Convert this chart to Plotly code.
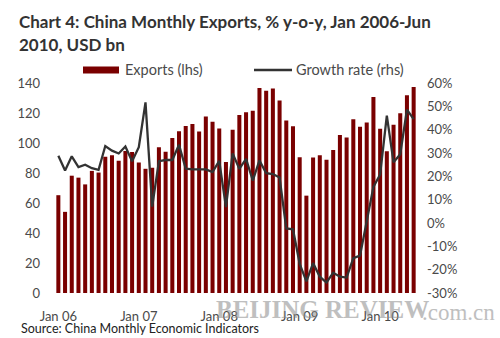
import plotly.graph_objects as go

months = [f"{m} {y:02d}" for y in range(6, 11) for m in
          ["Jan", "Feb", "Mar", "Apr", "May", "Jun", "Jul", "Aug", "Sep", "Oct", "Nov", "Dec"]][:54]

exports = [65.2, 54.1, 78.2, 76.9, 72.4, 81.4, 80.3, 90.8, 91.8, 88.2, 94.6, 94.0,
           87.0, 82.8, 83.5, 97.2, 94.1, 103.3, 107.9, 111.3, 112.6, 107.7, 117.6, 114.2,
           109.6, 87.4, 108.9, 118.7, 120.5, 121.5, 136.7, 134.9, 136.4, 128.3, 115.0, 111.2,
           90.5, 64.9, 90.3, 91.9, 88.8, 95.4, 105.4, 103.7, 115.9, 110.8, 113.6, 130.7,
           109.5, 94.5, 112.1, 119.9, 131.8, 137.4]

growth = [28.8, 22.5, 28.6, 24.0, 25.0, 23.5, 22.8, 33.0, 31.0, 29.8, 32.8, 26.5,
          32.5, 51.7, 7.0, 26.5, 27.0, 27.0, 33.5, 23.3, 23.0, 23.0, 23.0, 21.8,
          26.6, 6.8, 29.8, 23.2, 27.5, 18.2, 26.8, 21.4, 21.0, 19.5, -2.3, -2.7,
          -17.5, -25.0, -17.2, -23.0, -25.5, -21.3, -23.0, -23.4, -15.1, -14.0, 1.0, 15.5,
          20.8, 46.0, 26.0, 29.5, 48.6, 44.5]

tick_vals = ["Jan 06", "Jan 07", "Jan 08", "Jan 09", "Jan 10"]

W, H = 500, 338
L, R, T, B = 55, 417, 83, 293


def px(x):
    return (x - L) / (R - L)


def py(y):
    return (B - y) / (B - T)


FONT = "Lato"
GREY = "#4a4a4a"
RED = "#7a0000"
LINE = "#333333"

fig = go.Figure()
fig.add_trace(go.Bar(x=months, y=exports, marker_color=RED, marker_line_width=0,
                     name="Exports (lhs)", showlegend=False))
fig.add_trace(go.Scatter(x=months, y=growth, yaxis="y2", mode="lines",
                         line=dict(color=LINE, width=2.3), name="Growth rate (rhs)",
                         showlegend=False))

shapes = [
    dict(type="rect", xref="paper", yref="paper", x0=px(83), x1=px(119), y0=py(73.5), y1=py(66.5),
         fillcolor=RED, line_width=0),
    dict(type="line", xref="paper", yref="paper", x0=px(254), x1=px(292), y0=py(70), y1=py(70),
         line=dict(color=LINE, width=2.3)),
]

annotations = [
    dict(text="<b>BEIJING REVIEW</b>", x=px(214), y=py(309), xref="paper", yref="paper",
         xanchor="left", yanchor="middle", showarrow=False, opacity=0.55,
         font=dict(family="Liberation Serif", size=25, color="#8c8c8c")),
    dict(text=".com.cn", x=px(497), y=py(312), xref="paper", yref="paper",
         xanchor="right", yanchor="middle", showarrow=False, opacity=0.55,
         font=dict(family="Liberation Serif", size=23, color="#8c8c8c")),
    dict(text="<b>Chart 4: China Monthly Exports, % y-o-y, Jan 2006-Jun</b>", x=px(17), y=py(22),
         xref="paper", yref="paper", xanchor="left", yanchor="middle", showarrow=False,
         font=dict(family=FONT, size=17, color="#333333")),
    dict(text="<b>2010, USD bn</b>", x=px(17), y=py(45),
         xref="paper", yref="paper", xanchor="left", yanchor="middle", showarrow=False,
         font=dict(family=FONT, size=17, color="#333333")),
    dict(text="Exports (lhs)", x=px(123), y=py(69), xref="paper", yref="paper",
         xanchor="left", yanchor="middle", showarrow=False,
         font=dict(family=FONT, size=14.5, color=GREY)),
    dict(text="Growth rate (rhs)", x=px(294), y=py(69), xref="paper", yref="paper",
         xanchor="left", yanchor="middle", showarrow=False,
         font=dict(family=FONT, size=14.5, color=GREY)),
    dict(text="Source: China Monthly Economic Indicators", x=px(19), y=py(328),
         xref="paper", yref="paper", xanchor="left", yanchor="middle", showarrow=False,
         font=dict(family=FONT, size=12.5, color="#222222")),
]

fig.update_layout(
    width=W, height=H,
    margin=dict(l=L, r=W - R, t=T, b=H - B, pad=0),
    paper_bgcolor="white", plot_bgcolor="white",
    bargap=0.4,
    showlegend=False,
    xaxis=dict(type="category", range=[-0.5, 53.5], tickmode="array", tickvals=tick_vals,
               ticktext=tick_vals, showgrid=False, zeroline=False, showline=False,
               ticks="", ticklabelstandoff=14, tickangle=0,
               tickfont=dict(family=FONT, size=13, color=GREY)),
    yaxis=dict(range=[0, 140], tickvals=[0, 20, 40, 60, 80, 100, 120, 140], showgrid=False,
               zeroline=False, showline=False, ticks="", ticklabelstandoff=14,
               tickfont=dict(family=FONT, size=13, color=GREY)),
    yaxis2=dict(range=[-30, 60], overlaying="y", side="right",
                tickvals=[-30, -20, -10, 0, 10, 20, 30, 40, 50, 60],
                ticktext=["-30%", "-20%", "-10%", "0%", "10%", "20%", "30%", "40%", "50%", "60%"],
                showgrid=False, zeroline=False, showline=False, ticks="", ticklabelstandoff=9,
                tickfont=dict(family=FONT, size=13, color=GREY)),
    shapes=shapes,
    annotations=annotations,
)

fig.write_html("out.html")
